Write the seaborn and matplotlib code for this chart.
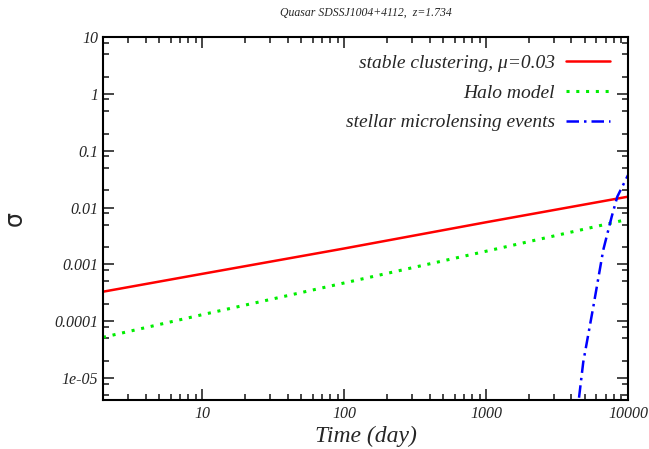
import numpy as np
import pandas as pd
import matplotlib
matplotlib.use("Agg")
import matplotlib.pyplot as plt
import matplotlib.ticker as mticker
import seaborn as sns

# values (log-log)
time_clust = [2, 10, 100, 1000, 10000]
sigma_clust = [3.3e-4, 6.8e-4, 1.9e-3, 5.5e-3, 0.0155]

time_halo = [2, 10, 100, 1000, 10000]
sigma_halo = [5.2e-5, 1.3e-4, 4.7e-4, 1.7e-3, 6.2e-3]

time_micro = [4520, 4840, 5700, 6700, 7680, 8410, 10000]
sigma_micro = [4.5e-6, 1.9e-5, 1.8e-4, 1.8e-3, 6.9e-3, 0.0155, 0.037]

labels = ["stable clustering, \u03bc=0.03", "Halo model", "stellar microlensing events"]
colors = ["#ff0000", "#00ee00", "#0000ff"]

sns.set_style("ticks")
plt.rcParams['font.family'] = ['Liberation Serif', 'DejaVu Serif']

fig = plt.figure(figsize=(6.49, 4.49), dpi=100)
ax = fig.add_axes([0.1587, 0.1091, 0.8089, 0.8085])

sns.lineplot(x=time_clust, y=sigma_clust, ax=ax, color=colors[0], lw=1.8,
             label=labels[0])
sns.lineplot(x=time_halo, y=sigma_halo, ax=ax, color=colors[1], lw=2.2,
             linestyle=(0, (1, 2.2)), label=labels[1])
sns.lineplot(x=time_micro, y=sigma_micro, ax=ax, color=colors[2], lw=1.8,
             linestyle=(0, (5, 2, 1, 2)), label=labels[2])

ax.set_xscale("log")
ax.set_yscale("log")
ax.set_xlim(2, 10000)
ax.set_ylim(4.1e-6, 10)

ax.set_xticks([10, 100, 1000, 10000])
ax.set_xticklabels(["10", "100", "1000", "10000"])
ax.set_yticks([1e-5, 1e-4, 1e-3, 1e-2, 0.1, 1, 10])
ax.set_yticklabels(["1e-05", "0.0001", "0.001", "0.01", "0.1", "1", "10"])
ax.yaxis.set_minor_locator(mticker.LogLocator(base=10, subs=[2, 5, 8], numticks=20))
ax.yaxis.set_minor_formatter(mticker.NullFormatter())

for t in ax.get_xticklabels() + ax.get_yticklabels():
    t.set_fontstyle("italic")
    t.set_fontsize(11.5)

ax.tick_params(which="both", direction="in", top=True, right=True, width=1.2)
ax.tick_params(which="major", length=8)
ax.tick_params(which="minor", length=4)
ax.tick_params(axis="x", pad=4)
for s in ax.spines.values():
    s.set_linewidth(1.5)
    s.set_color("black")

ax.set_xlabel("Time (day)", fontsize=17, fontstyle="italic", labelpad=3)
ax.set_ylabel("\u03c3", fontsize=17, family="DejaVu Sans", rotation=90)
ax.yaxis.set_label_coords(-0.145, 0.5)
ax.set_title("Quasar SDSSJ1004+4112,  z=1.734", fontsize=8.5, fontstyle="italic", pad=15)

leg = ax.legend(loc="upper right", frameon=False, markerfirst=False,
                handlelength=2.3, handletextpad=0.55, fontsize=14,
                labelspacing=0.62, borderaxespad=0.5)
for t in leg.get_texts():
    t.set_fontstyle("italic")

fig.savefig("out.png", dpi=100)
